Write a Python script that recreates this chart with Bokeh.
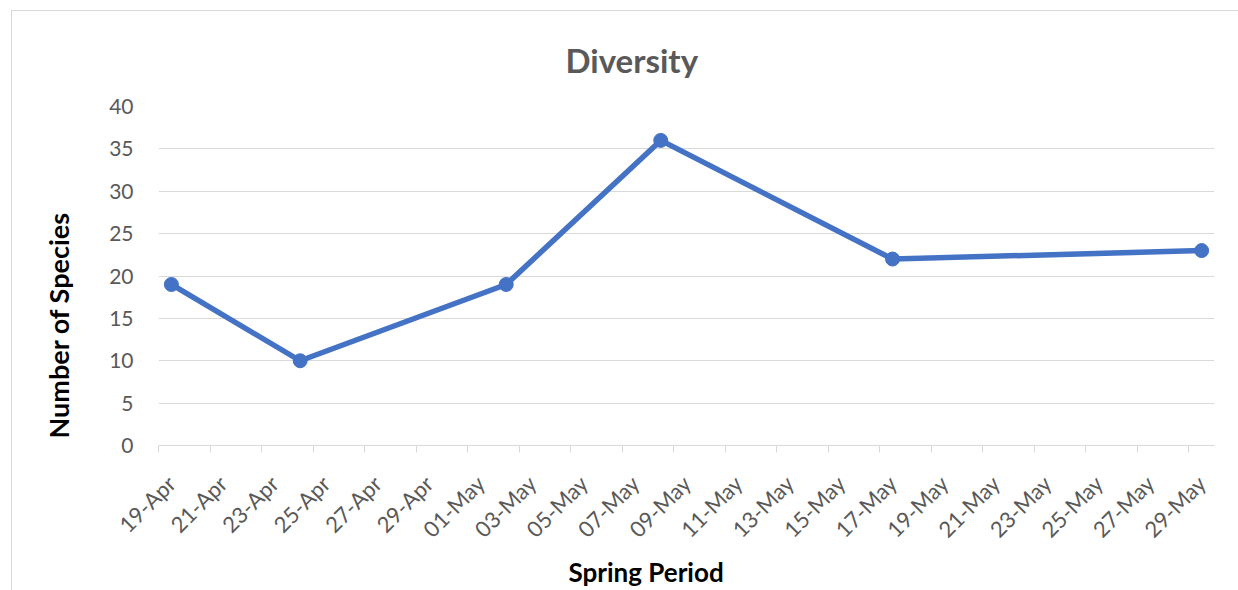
import datetime as dt
from math import pi

from bokeh.plotting import figure
from bokeh.models import Title, FixedTicker, Range1d, LinearAxis
from bokeh.embed import file_html
from bokeh.resources import INLINE

# Survey data: date of each count and the number of species recorded
survey_dates = ["19-Apr", "24-Apr", "02-May", "08-May", "17-May", "29-May"]
species_counts = [19, 10, 19, 36, 22, 23]

# Date axis: one slot per day, labelled every second day
axis_first_day = "19-Apr"
axis_last_day = "29-May"
tick_step_days = 2
y_ticks = [0, 5, 10, 15, 20, 25, 30, 35, 40]

YEAR = 2021


def to_date(label):
    return dt.datetime.strptime(f"{label}-{YEAR}", "%d-%b-%Y").date()


start = to_date(axis_first_day)
n_days = (to_date(axis_last_day) - start).days + 1

# each point sits in the middle of its day slot
xs = [(to_date(d) - start).days + 0.5 for d in survey_dates]

tick_pos = list(range(0, n_days, tick_step_days))
tick_labels = {
    k: (start + dt.timedelta(days=k)).strftime("%d-%b") for k in tick_pos
}

FONT = "Lato"
GRID = "#d9d9d9"
TEXT = "#595959"
BLUE = "#4472c4"

p = figure(
    width=1227,
    height=580,
    x_range=Range1d(0, n_days),
    y_range=Range1d(y_ticks[0], y_ticks[-1]),
    output_backend="svg",
    toolbar_location=None,
    min_border_left=146,
    min_border_right=25,
    min_border_top=95,
    min_border_bottom=146,
)
p.margin = (10, 0, 0, 11)
p.styles = {"border-left": f"1px solid {GRID}", "border-top": f"1px solid {GRID}"}
p.outline_line_color = None
p.background_fill_color = "white"
p.border_fill_color = "white"

# chart title
p.title.text = "Diversity"
p.title.align = "left"
p.title.vertical_align = "bottom"
p.title.offset = 407
p.title.standoff = 53
p.title.text_font = FONT
p.title.text_font_size = "33px"
p.title.text_font_style = "bold"
p.title.text_color = TEXT

# grid
p.xgrid.visible = False
p.ygrid.grid_line_color = GRID
p.ygrid.grid_line_width = 1
p.ygrid.ticker = FixedTicker(ticks=y_ticks)

# x axis: line and tick marks at the day-slot boundaries
xa = p.xaxis[0]
xa.ticker = FixedTicker(ticks=tick_pos)
xa.major_label_overrides = {k: "" for k in tick_pos}
xa.major_label_text_font_size = "0px"
xa.major_label_standoff = 0
xa.axis_line_color = GRID
xa.axis_line_width = 1
xa.major_tick_line_color = GRID
xa.major_tick_in = 0
xa.major_tick_out = 7
xa.minor_tick_line_color = None

# date labels, centred on their day slot
p.extra_x_ranges = {"slots": Range1d(-0.5, n_days - 0.5)}
xl = LinearAxis(x_range_name="slots", ticker=FixedTicker(ticks=tick_pos))
xl.major_label_overrides = tick_labels
xl.major_label_orientation = pi / 4
xl.axis_line_color = None
xl.major_tick_line_color = None
xl.minor_tick_line_color = None
xl.major_label_text_font = FONT
xl.major_label_text_font_size = "22px"
xl.major_label_text_color = TEXT
xl.major_label_standoff = 21
p.add_layout(xl, "below")

# y axis
ya = p.yaxis[0]
ya.ticker = FixedTicker(ticks=y_ticks)
ya.axis_line_color = None
ya.major_tick_line_color = None
ya.minor_tick_line_color = None
ya.major_label_text_font = FONT
ya.major_label_text_font_size = "21px"
ya.major_label_text_color = TEXT
ya.major_label_standoff = 19

# axis titles
p.add_layout(
    Title(
        text="Spring Period",
        align="left",
        vertical_align="top",
        offset=410,
        standoff=0,
        text_font=FONT,
        text_font_size="26px",
        text_font_style="bold",
        text_color="black",
    ),
    "below",
)
p.add_layout(
    Title(
        text="Number of Species",
        align="left",
        vertical_align="top",
        offset=7,
        standoff=59,
        text_font=FONT,
        text_font_size="27px",
        text_font_style="bold",
        text_color="black",
    ),
    "left",
)

# series
p.line(xs, species_counts, line_width=5.5, line_color=BLUE)
p.scatter(xs, species_counts, size=14, fill_color=BLUE, line_color=BLUE)

open("out.html", "w").write(file_html(p, INLINE))
